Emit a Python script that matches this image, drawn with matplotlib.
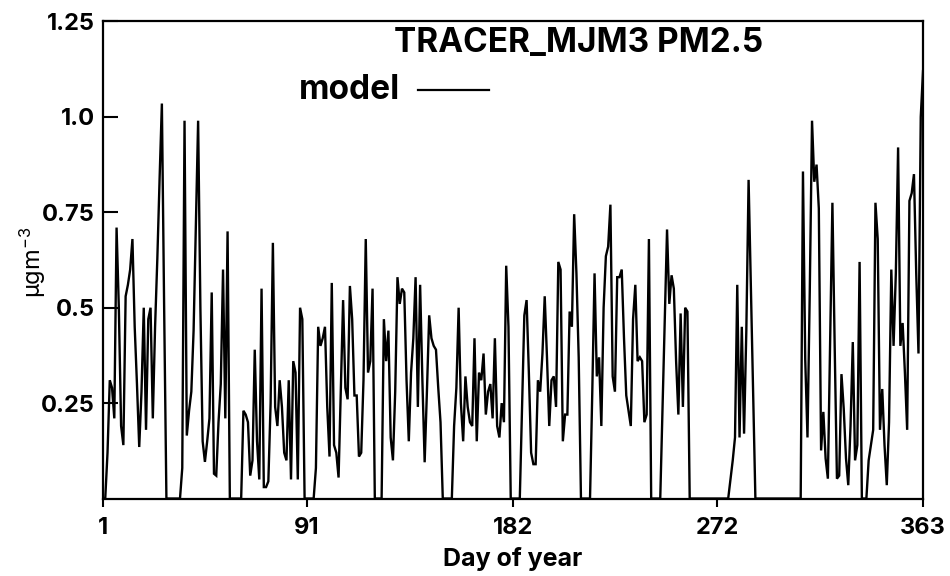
import matplotlib
matplotlib.use("Agg")
import matplotlib.pyplot as plt
import numpy as np

plt.rcParams['font.family'] = ['Inter', 'Liberation Sans', 'DejaVu Sans']
plt.rcParams['mathtext.fontset'] = 'custom'
plt.rcParams['mathtext.rm'] = 'Inter'
plt.rcParams['mathtext.bf'] = 'Inter:bold'
plt.rcParams['mathtext.it'] = 'Inter'

# Daily modelled PM2.5 tracer concentration (ugm-3), day 1..363
pm25 = [
    0.0, 0.0, 0.12, 0.31, 0.29, 0.21, 0.71, 0.50, 0.19, 0.14,
    0.53, 0.56, 0.60, 0.68, 0.45, 0.30, 0.135, 0.28, 0.50, 0.18,
    0.47, 0.50, 0.21, 0.45, 0.63, 0.84, 1.035, 0.50,
    0.0, 0.0, 0.0, 0.0, 0.0, 0.0, 0.0,
    0.08, 0.99, 0.165, 0.23, 0.28, 0.44, 0.72, 0.99, 0.50, 0.15,
    0.096, 0.15, 0.21, 0.54, 0.065, 0.06, 0.20, 0.30, 0.60, 0.21, 0.70,
    0.0, 0.0, 0.0, 0.0, 0.0, 0.0,
    0.23, 0.22, 0.20, 0.06, 0.10, 0.39, 0.15, 0.05, 0.55, 0.03,
    0.03, 0.045, 0.25, 0.67, 0.24, 0.19, 0.31, 0.24, 0.12, 0.10,
    0.31, 0.05, 0.36, 0.33, 0.05, 0.50, 0.47,
    0.0, 0.0, 0.0, 0.0, 0.0,
    0.08, 0.45, 0.40, 0.42, 0.45, 0.24, 0.11, 0.565, 0.14, 0.12,
    0.055, 0.29, 0.52, 0.29, 0.26, 0.557, 0.47, 0.27, 0.27, 0.11,
    0.12, 0.31, 0.68, 0.33, 0.36, 0.55,
    0.0, 0.0, 0.0, 0.0,
    0.47, 0.36, 0.44, 0.16, 0.10, 0.28, 0.58, 0.51, 0.55, 0.54,
    0.31, 0.15, 0.33, 0.42, 0.58, 0.24, 0.56, 0.31, 0.095, 0.28,
    0.48, 0.42, 0.40, 0.39, 0.29, 0.20,
    0.0, 0.0, 0.0, 0.0, 0.0,
    0.19, 0.29, 0.50, 0.25, 0.15, 0.32, 0.24, 0.20, 0.19, 0.42,
    0.15, 0.33, 0.31, 0.38, 0.22, 0.28, 0.30, 0.21, 0.42, 0.19,
    0.16, 0.25, 0.20, 0.61, 0.45,
    0.0, 0.0, 0.0, 0.0, 0.0,
    0.24, 0.48, 0.52, 0.33, 0.12, 0.09, 0.09, 0.31, 0.28, 0.38,
    0.53, 0.37, 0.19, 0.31, 0.32, 0.24, 0.62, 0.60, 0.15, 0.22,
    0.22, 0.49, 0.45, 0.745, 0.59, 0.37,
    0.0, 0.0, 0.0, 0.0, 0.0,
    0.28, 0.59, 0.32, 0.37, 0.19, 0.50, 0.635, 0.66, 0.77, 0.32,
    0.28, 0.58, 0.58, 0.60, 0.42, 0.27, 0.23, 0.19, 0.47, 0.56,
    0.36, 0.37, 0.36, 0.20, 0.22, 0.68,
    0.0, 0.0, 0.0, 0.0, 0.0,
    0.235, 0.47, 0.705, 0.51, 0.585, 0.55, 0.36, 0.22, 0.485, 0.24,
    0.50, 0.49,
    0.0, 0.0, 0.0, 0.0, 0.0, 0.0, 0.0, 0.0, 0.0, 0.0,
    0.0, 0.0, 0.0, 0.0, 0.0, 0.0, 0.0, 0.0,
    0.05, 0.10, 0.16, 0.56, 0.16, 0.45, 0.17, 0.44, 0.835, 0.56,
    0.28,
    0.0, 0.0, 0.0, 0.0, 0.0, 0.0, 0.0, 0.0, 0.0, 0.0,
    0.0, 0.0, 0.0, 0.0, 0.0, 0.0, 0.0, 0.0, 0.0, 0.0, 0.0,
    0.857, 0.365, 0.16, 0.54, 0.99, 0.83, 0.875, 0.76, 0.126, 0.227,
    0.105, 0.052, 0.41, 0.775, 0.40, 0.052, 0.06, 0.326, 0.235, 0.105,
    0.035, 0.19, 0.41, 0.10, 0.14, 0.62,
    0.0, 0.0, 0.0,
    0.10, 0.14, 0.18, 0.775, 0.68, 0.18, 0.287, 0.14, 0.035, 0.20,
    0.60, 0.40, 0.59, 0.92, 0.40, 0.46, 0.33, 0.18, 0.78, 0.80,
    0.85, 0.59, 0.38, 1.0, 1.12,
]
days = np.arange(1, len(pm25) + 1)

x_ticks = [1, 91, 182, 272, 363]
x_ticklabels = ["1", "91", "182", "272", "363"]
y_ticks = [0.25, 0.5, 0.75, 1.0, 1.25]
y_ticklabels = ["0.25", "0.5", "0.75", "1.0", "1.25"]

title = "TRACER_MJM3 PM2.5"
series_name = "model"

fig = plt.figure(figsize=(9.5, 5.76), dpi=100)
ax = fig.add_axes([0.1084, 0.1345, 0.8632, 0.8282])

ax.plot(days, pm25, color="black", linewidth=1.7, solid_joinstyle="miter")

ax.set_xlim(1, 363)
ax.set_ylim(0, 1.25)
ax.set_xticks(x_ticks)
ax.set_xticklabels(x_ticklabels, fontsize=17, fontweight="bold")
ax.set_yticks(y_ticks)
ax.set_yticklabels(y_ticklabels, fontsize=17, fontweight="bold")
ax.tick_params(axis="y", direction="in", length=11, width=1.5, pad=6)
ax.tick_params(axis="x", direction="out", length=6, width=1.5, pad=7)
for s in ax.spines.values():
    s.set_linewidth(1.6)

ax.set_xlabel("Day of year", fontsize=18, fontweight="bold", labelpad=6)
fig.text(0.035, 0.545, r"$\mathrm{\mu gm}^{-3}$", rotation=90, fontsize=17,
         ha="center", va="center")

fig.text(0.415, 0.925, title, fontsize=24, fontweight="bold",
         ha="left", va="center")
fig.text(0.315, 0.843, series_name, fontsize=24, fontweight="bold",
         ha="left", va="center")
fig.add_artist(plt.Line2D([0.44, 0.515], [0.843, 0.843], color="black",
                          linewidth=1.6, transform=fig.transFigure))

fig.savefig("out.png", dpi=100)
